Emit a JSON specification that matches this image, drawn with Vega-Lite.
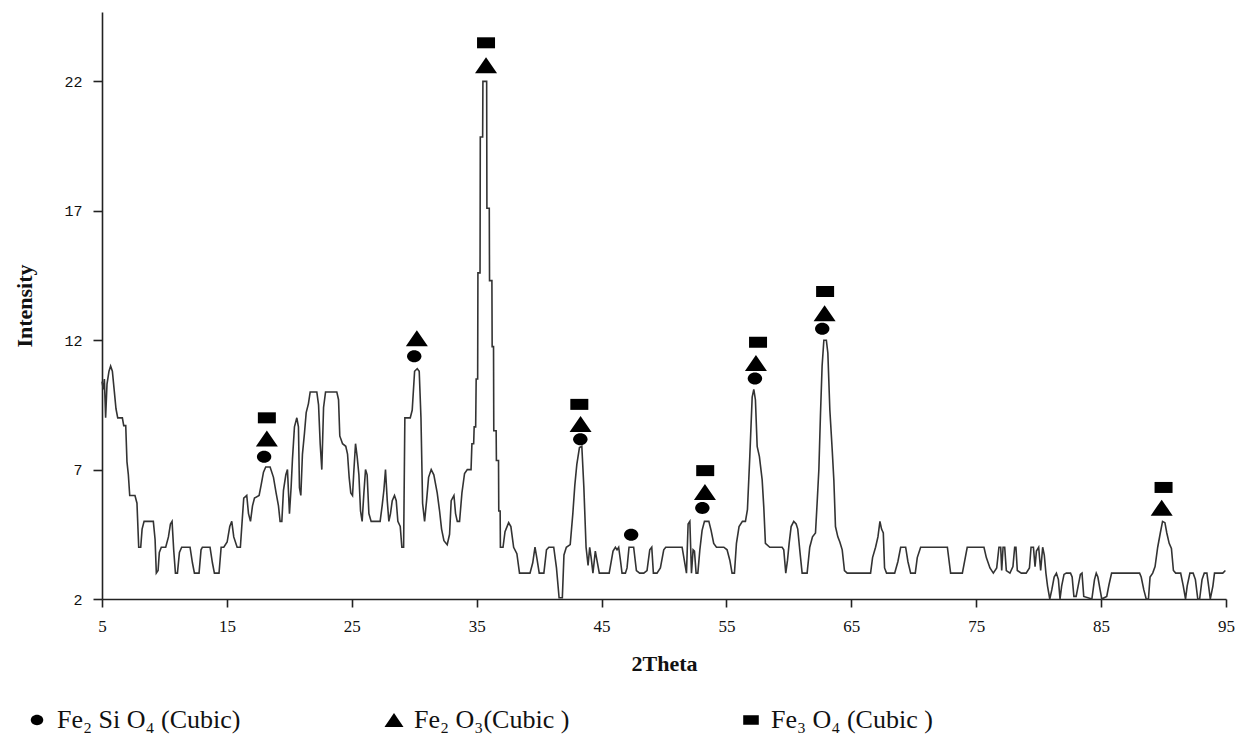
{
  "$schema": "https://vega.github.io/schema/vega-lite/v6.json",
  "width": 1124,
  "height": 587,
  "autosize": {"type": "none"},
  "padding": {"left": 102, "top": 12, "right": 21, "bottom": 145},
  "background": "white",
  "config": {
    "view": {"stroke": null},
    "axis": {"grid": false, "domainColor": "#222", "tickColor": "#222", "domainWidth": 1.6, "tickWidth": 1.6, "labelColor": "#111", "titleColor": "#111"}
  },
  "datasets": {
    "pattern": [
      {"theta":5.0,"intensity":10.4},{"theta":5.11,"intensity":10.1},{"theta":5.19,"intensity":10.5},{"theta":5.29,"intensity":9},{"theta":5.4,"intensity":10.3},{"theta":5.56,"intensity":10.8},{"theta":5.69,"intensity":11},{"theta":5.83,"intensity":10.8},{"theta":5.99,"intensity":10},{"theta":6.12,"intensity":9.35},{"theta":6.26,"intensity":9},{"theta":6.63,"intensity":9},{"theta":6.74,"intensity":8.7},{"theta":6.9,"intensity":8.7},{"theta":7.0,"intensity":7.3},{"theta":7.11,"intensity":6.8},{"theta":7.22,"intensity":6},{"theta":7.64,"intensity":6},{"theta":7.8,"intensity":5.7},{"theta":7.94,"intensity":4},{"theta":8.1,"intensity":4},{"theta":8.21,"intensity":4.7},{"theta":8.37,"intensity":5},{"theta":9.11,"intensity":5},{"theta":9.25,"intensity":4.3},{"theta":9.35,"intensity":3},{"theta":9.49,"intensity":3.1},{"theta":9.59,"intensity":3.8},{"theta":9.75,"intensity":4},{"theta":10.1,"intensity":4},{"theta":10.32,"intensity":4.4},{"theta":10.48,"intensity":4.9},{"theta":10.61,"intensity":5},{"theta":10.74,"intensity":3.9},{"theta":10.88,"intensity":3},{"theta":11.04,"intensity":3},{"theta":11.2,"intensity":3.8},{"theta":11.38,"intensity":4},{"theta":12.05,"intensity":4},{"theta":12.24,"intensity":3.4},{"theta":12.4,"intensity":3},{"theta":12.77,"intensity":3},{"theta":12.93,"intensity":3.9},{"theta":13.04,"intensity":4},{"theta":13.65,"intensity":4},{"theta":13.84,"intensity":3.4},{"theta":14.0,"intensity":3},{"theta":14.37,"intensity":3},{"theta":14.54,"intensity":4},{"theta":14.75,"intensity":4},{"theta":15.02,"intensity":4.2},{"theta":15.23,"intensity":4.8},{"theta":15.39,"intensity":5},{"theta":15.55,"intensity":4.4},{"theta":15.82,"intensity":4},{"theta":16.08,"intensity":4},{"theta":16.22,"intensity":5},{"theta":16.35,"intensity":5.9},{"theta":16.59,"intensity":6},{"theta":16.73,"intensity":5.3},{"theta":16.89,"intensity":5},{"theta":17.05,"intensity":5.6},{"theta":17.21,"intensity":5.9},{"theta":17.58,"intensity":6},{"theta":17.74,"intensity":6.4},{"theta":17.93,"intensity":6.9},{"theta":18.11,"intensity":7.1},{"theta":18.46,"intensity":7.1},{"theta":18.73,"intensity":6.7},{"theta":18.94,"intensity":6.1},{"theta":19.13,"intensity":5.6},{"theta":19.26,"intensity":5},{"theta":19.4,"intensity":5},{"theta":19.53,"intensity":6.2},{"theta":19.72,"intensity":6.8},{"theta":19.85,"intensity":7},{"theta":20.01,"intensity":5.3},{"theta":20.14,"intensity":6.3},{"theta":20.25,"intensity":7.4},{"theta":20.41,"intensity":8.65},{"theta":20.6,"intensity":9},{"theta":20.73,"intensity":8.65},{"theta":20.81,"intensity":6.3},{"theta":20.92,"intensity":6},{"theta":21.05,"intensity":7.6},{"theta":21.21,"intensity":8.4},{"theta":21.35,"intensity":9.2},{"theta":21.53,"intensity":9.55},{"theta":21.67,"intensity":10},{"theta":22.2,"intensity":10},{"theta":22.34,"intensity":9.5},{"theta":22.47,"intensity":8},{"theta":22.6,"intensity":7},{"theta":22.74,"intensity":9.4},{"theta":22.9,"intensity":10},{"theta":23.8,"intensity":10},{"theta":23.94,"intensity":9.7},{"theta":24.04,"intensity":8.3},{"theta":24.26,"intensity":8},{"theta":24.52,"intensity":7.9},{"theta":24.66,"intensity":7.6},{"theta":24.79,"intensity":6.7},{"theta":24.92,"intensity":6.1},{"theta":25.06,"intensity":6},{"theta":25.16,"intensity":6.9},{"theta":25.3,"intensity":8},{"theta":25.43,"intensity":7.5},{"theta":25.57,"intensity":6.8},{"theta":25.7,"intensity":5.4},{"theta":25.83,"intensity":5},{"theta":25.97,"intensity":6.1},{"theta":26.1,"intensity":7},{"theta":26.23,"intensity":6.8},{"theta":26.37,"intensity":5.3},{"theta":26.55,"intensity":5},{"theta":27.27,"intensity":5},{"theta":27.43,"intensity":5.6},{"theta":27.57,"intensity":6.2},{"theta":27.7,"intensity":7},{"theta":27.84,"intensity":5.8},{"theta":27.97,"intensity":5},{"theta":28.1,"intensity":5.3},{"theta":28.24,"intensity":5.8},{"theta":28.42,"intensity":6},{"theta":28.56,"intensity":5.8},{"theta":28.69,"intensity":5},{"theta":28.88,"intensity":4.8},{"theta":29.01,"intensity":4},{"theta":29.15,"intensity":4},{"theta":29.25,"intensity":9},{"theta":29.68,"intensity":9},{"theta":29.84,"intensity":9.3},{"theta":30.03,"intensity":10.8},{"theta":30.24,"intensity":10.9},{"theta":30.4,"intensity":10.8},{"theta":30.54,"intensity":9},{"theta":30.67,"intensity":5.7},{"theta":30.83,"intensity":5},{"theta":30.99,"intensity":5.8},{"theta":31.15,"intensity":6.7},{"theta":31.36,"intensity":7},{"theta":31.57,"intensity":6.8},{"theta":31.84,"intensity":6.1},{"theta":32.03,"intensity":5.4},{"theta":32.19,"intensity":4.7},{"theta":32.38,"intensity":4.25},{"theta":32.64,"intensity":4.1},{"theta":32.83,"intensity":4.5},{"theta":32.96,"intensity":5.8},{"theta":33.18,"intensity":6},{"theta":33.31,"intensity":5.3},{"theta":33.45,"intensity":5},{"theta":33.63,"intensity":5},{"theta":33.82,"intensity":6.1},{"theta":34.03,"intensity":6.85},{"theta":34.25,"intensity":7},{"theta":34.55,"intensity":7},{"theta":34.62,"intensity":8},{"theta":34.76,"intensity":8},{"theta":34.8,"intensity":8.65},{"theta":34.92,"intensity":8.65},{"theta":34.96,"intensity":10.5},{"theta":35.08,"intensity":10.5},{"theta":35.1,"intensity":14.6},{"theta":35.27,"intensity":14.6},{"theta":35.29,"intensity":19.85},{"theta":35.48,"intensity":19.85},{"theta":35.5,"intensity":22},{"theta":35.8,"intensity":22},{"theta":35.82,"intensity":17.1},{"theta":36.01,"intensity":17.1},{"theta":36.03,"intensity":14.3},{"theta":36.22,"intensity":14.3},{"theta":36.24,"intensity":11.75},{"theta":36.35,"intensity":11.75},{"theta":36.37,"intensity":8.5},{"theta":36.56,"intensity":8.5},{"theta":36.58,"intensity":7.35},{"theta":36.75,"intensity":7.35},{"theta":36.77,"intensity":5.4},{"theta":36.88,"intensity":5.4},{"theta":36.9,"intensity":4},{"theta":37.11,"intensity":4},{"theta":37.27,"intensity":4.6},{"theta":37.56,"intensity":4.95},{"theta":37.74,"intensity":4.8},{"theta":37.96,"intensity":4},{"theta":38.22,"intensity":3.75},{"theta":38.43,"intensity":3},{"theta":39.27,"intensity":3},{"theta":39.49,"intensity":3.4},{"theta":39.67,"intensity":4},{"theta":39.83,"intensity":3.55},{"theta":40.01,"intensity":3},{"theta":40.38,"intensity":3},{"theta":40.59,"intensity":3.9},{"theta":40.78,"intensity":4},{"theta":41.17,"intensity":4},{"theta":41.39,"intensity":3.2},{"theta":41.6,"intensity":2.05},{"theta":41.86,"intensity":2.05},{"theta":41.99,"intensity":3.7},{"theta":42.18,"intensity":4},{"theta":42.49,"intensity":4.1},{"theta":42.7,"intensity":5.3},{"theta":42.86,"intensity":6.4},{"theta":43.02,"intensity":7.2},{"theta":43.23,"intensity":7.85},{"theta":43.42,"intensity":7.9},{"theta":43.58,"intensity":6.35},{"theta":43.76,"intensity":4},{"theta":43.92,"intensity":3.3},{"theta":44.05,"intensity":4},{"theta":44.18,"intensity":3.55},{"theta":44.31,"intensity":3},{"theta":44.5,"intensity":3.85},{"theta":44.63,"intensity":3.5},{"theta":44.82,"intensity":3},{"theta":45.61,"intensity":3},{"theta":45.92,"intensity":3.85},{"theta":46.11,"intensity":4},{"theta":46.24,"intensity":3.9},{"theta":46.37,"intensity":4},{"theta":46.51,"intensity":3.5},{"theta":46.64,"intensity":3},{"theta":46.91,"intensity":3},{"theta":47.04,"intensity":3.2},{"theta":47.2,"intensity":4},{"theta":47.57,"intensity":4},{"theta":47.79,"intensity":3.1},{"theta":48.05,"intensity":3},{"theta":48.38,"intensity":3},{"theta":48.64,"intensity":3.1},{"theta":48.86,"intensity":3.9},{"theta":49.02,"intensity":4},{"theta":49.15,"intensity":3},{"theta":49.44,"intensity":3},{"theta":49.71,"intensity":3.2},{"theta":49.98,"intensity":3.9},{"theta":50.14,"intensity":4},{"theta":51.45,"intensity":4},{"theta":51.66,"intensity":3.4},{"theta":51.8,"intensity":3},{"theta":51.93,"intensity":4.9},{"theta":52.07,"intensity":5},{"theta":52.2,"intensity":3},{"theta":52.33,"intensity":3.9},{"theta":52.44,"intensity":3.85},{"theta":52.57,"intensity":3},{"theta":52.71,"intensity":3},{"theta":52.87,"intensity":3.9},{"theta":53.05,"intensity":4.65},{"theta":53.24,"intensity":5},{"theta":53.59,"intensity":5},{"theta":53.77,"intensity":4.65},{"theta":53.98,"intensity":4.15},{"theta":54.2,"intensity":4},{"theta":54.79,"intensity":4},{"theta":55.05,"intensity":3.9},{"theta":55.27,"intensity":3.5},{"theta":55.45,"intensity":3},{"theta":55.64,"intensity":3},{"theta":55.8,"intensity":4.15},{"theta":56.01,"intensity":4.8},{"theta":56.28,"intensity":5},{"theta":56.52,"intensity":5},{"theta":56.68,"intensity":5.45},{"theta":56.87,"intensity":7.5},{"theta":57.06,"intensity":9.8},{"theta":57.19,"intensity":10.1},{"theta":57.32,"intensity":9.7},{"theta":57.46,"intensity":7.9},{"theta":57.64,"intensity":7.5},{"theta":57.86,"intensity":6.6},{"theta":57.99,"intensity":5.55},{"theta":58.12,"intensity":4.15},{"theta":58.47,"intensity":4},{"theta":59.46,"intensity":4},{"theta":59.59,"intensity":3.9},{"theta":59.75,"intensity":3},{"theta":59.89,"intensity":3.5},{"theta":60.02,"intensity":4.15},{"theta":60.18,"intensity":4.8},{"theta":60.39,"intensity":5},{"theta":60.58,"intensity":4.9},{"theta":60.71,"intensity":4.7},{"theta":60.87,"intensity":3.9},{"theta":61.06,"intensity":3},{"theta":61.46,"intensity":3},{"theta":61.67,"intensity":4},{"theta":61.89,"intensity":4.4},{"theta":62.13,"intensity":4.55},{"theta":62.26,"intensity":5.7},{"theta":62.4,"intensity":7},{"theta":62.53,"intensity":9.15},{"theta":62.66,"intensity":11},{"theta":62.8,"intensity":12},{"theta":63.0,"intensity":12},{"theta":63.12,"intensity":11.5},{"theta":63.28,"intensity":9.3},{"theta":63.47,"intensity":7.75},{"theta":63.6,"intensity":6.6},{"theta":63.73,"intensity":4.8},{"theta":63.92,"intensity":4.4},{"theta":64.08,"intensity":4.2},{"theta":64.27,"intensity":3.9},{"theta":64.45,"intensity":3.1},{"theta":64.67,"intensity":3},{"theta":66.54,"intensity":3},{"theta":66.7,"intensity":3.6},{"theta":66.94,"intensity":4},{"theta":67.13,"intensity":4.4},{"theta":67.29,"intensity":5},{"theta":67.42,"intensity":4.7},{"theta":67.56,"intensity":4.55},{"theta":67.66,"intensity":3.2},{"theta":67.82,"intensity":3},{"theta":68.47,"intensity":3},{"theta":68.73,"intensity":3.45},{"theta":68.95,"intensity":4},{"theta":69.35,"intensity":4},{"theta":69.53,"intensity":3.45},{"theta":69.75,"intensity":3},{"theta":70.12,"intensity":3},{"theta":70.28,"intensity":3.6},{"theta":70.55,"intensity":4},{"theta":72.69,"intensity":4},{"theta":72.95,"intensity":3},{"theta":73.89,"intensity":3},{"theta":74.28,"intensity":4},{"theta":75.62,"intensity":4},{"theta":75.81,"intensity":3.6},{"theta":76.1,"intensity":3.2},{"theta":76.37,"intensity":3},{"theta":76.64,"intensity":3.2},{"theta":76.82,"intensity":4},{"theta":76.96,"intensity":4},{"theta":77.04,"intensity":3.1},{"theta":77.15,"intensity":4},{"theta":77.28,"intensity":4},{"theta":77.41,"intensity":3.1},{"theta":77.7,"intensity":3},{"theta":77.94,"intensity":3.25},{"theta":78.08,"intensity":4},{"theta":78.18,"intensity":4},{"theta":78.29,"intensity":3.1},{"theta":78.61,"intensity":3},{"theta":79.0,"intensity":3},{"theta":79.26,"intensity":3.2},{"theta":79.39,"intensity":4},{"theta":79.58,"intensity":4},{"theta":79.71,"intensity":3.25},{"theta":79.82,"intensity":3.85},{"theta":80.0,"intensity":4},{"theta":80.16,"intensity":3.1},{"theta":80.32,"intensity":4},{"theta":80.45,"intensity":3.7},{"theta":80.58,"intensity":3},{"theta":80.71,"intensity":2.5},{"theta":80.89,"intensity":2},{"theta":81.05,"intensity":2.35},{"theta":81.24,"intensity":2.85},{"theta":81.42,"intensity":3},{"theta":81.58,"intensity":2.75},{"theta":81.71,"intensity":2},{"theta":81.84,"intensity":2.5},{"theta":82.03,"intensity":2.95},{"theta":82.21,"intensity":3},{"theta":82.55,"intensity":3},{"theta":82.68,"intensity":2.85},{"theta":82.82,"intensity":2.1},{"theta":83.0,"intensity":2.1},{"theta":83.16,"intensity":2.5},{"theta":83.34,"intensity":2.95},{"theta":83.47,"intensity":3},{"theta":83.61,"intensity":2.1},{"theta":84.26,"intensity":2},{"theta":84.47,"intensity":2.75},{"theta":84.61,"intensity":3},{"theta":84.74,"intensity":2.85},{"theta":84.92,"intensity":2.35},{"theta":85.05,"intensity":2},{"theta":85.45,"intensity":2.1},{"theta":85.63,"intensity":2.55},{"theta":85.84,"intensity":3},{"theta":86.11,"intensity":3},{"theta":88.08,"intensity":3},{"theta":88.21,"intensity":2.85},{"theta":88.42,"intensity":2.35},{"theta":88.61,"intensity":2},{"theta":88.79,"intensity":2},{"theta":88.92,"intensity":2.85},{"theta":89.13,"intensity":3},{"theta":89.32,"intensity":3.25},{"theta":89.53,"intensity":4},{"theta":89.74,"intensity":4.55},{"theta":89.92,"intensity":5},{"theta":90.11,"intensity":4.95},{"theta":90.26,"intensity":4.55},{"theta":90.45,"intensity":4.15},{"theta":90.63,"intensity":3.95},{"theta":90.79,"intensity":3.1},{"theta":90.97,"intensity":3},{"theta":91.37,"intensity":3},{"theta":91.58,"intensity":2.5},{"theta":91.76,"intensity":2},{"theta":91.89,"intensity":2.5},{"theta":92.11,"intensity":3},{"theta":92.37,"intensity":3},{"theta":92.55,"intensity":2.75},{"theta":92.74,"intensity":2},{"theta":92.89,"intensity":2},{"theta":93.08,"intensity":2.75},{"theta":93.26,"intensity":3},{"theta":93.47,"intensity":3},{"theta":93.61,"intensity":2.5},{"theta":93.74,"intensity":2},{"theta":93.95,"intensity":2.5},{"theta":94.08,"intensity":3},{"theta":94.74,"intensity":3},{"theta":94.95,"intensity":3.1}
    ],
    "peaks": [
      {"theta":18.2,"intensity":9.0,"phase":"Fe₃ O₄ (Cubic )"},
      {"theta":18.2,"intensity":8.2,"phase":"Fe₂ O₃(Cubic )"},
      {"theta":17.98,"intensity":7.5,"phase":"Fe₂ Si O₄ (Cubic)"},
      {"theta":30.21,"intensity":12.07,"phase":"Fe₂ O₃(Cubic )"},
      {"theta":30.0,"intensity":11.38,"phase":"Fe₂ Si O₄ (Cubic)"},
      {"theta":35.75,"intensity":23.49,"phase":"Fe₃ O₄ (Cubic )"},
      {"theta":35.75,"intensity":22.62,"phase":"Fe₂ O₃(Cubic )"},
      {"theta":43.22,"intensity":9.52,"phase":"Fe₃ O₄ (Cubic )"},
      {"theta":43.32,"intensity":8.76,"phase":"Fe₂ O₃(Cubic )"},
      {"theta":43.3,"intensity":8.17,"phase":"Fe₂ Si O₄ (Cubic)"},
      {"theta":47.37,"intensity":4.48,"phase":"Fe₂ Si O₄ (Cubic)"},
      {"theta":53.3,"intensity":6.96,"phase":"Fe₃ O₄ (Cubic )"},
      {"theta":53.28,"intensity":6.13,"phase":"Fe₂ O₃(Cubic )"},
      {"theta":53.07,"intensity":5.52,"phase":"Fe₂ Si O₄ (Cubic)"},
      {"theta":57.53,"intensity":11.92,"phase":"Fe₃ O₄ (Cubic )"},
      {"theta":57.36,"intensity":11.12,"phase":"Fe₂ O₃(Cubic )"},
      {"theta":57.28,"intensity":10.52,"phase":"Fe₂ Si O₄ (Cubic)"},
      {"theta":62.9,"intensity":13.88,"phase":"Fe₃ O₄ (Cubic )"},
      {"theta":62.86,"intensity":13.04,"phase":"Fe₂ O₃(Cubic )"},
      {"theta":62.67,"intensity":12.44,"phase":"Fe₂ Si O₄ (Cubic)"},
      {"theta":90.0,"intensity":6.31,"phase":"Fe₃ O₄ (Cubic )"},
      {"theta":89.85,"intensity":5.53,"phase":"Fe₂ O₃(Cubic )"}
    ]
  },
  "layer": [
    {
      "data": {"name": "pattern"},
      "mark": {"type": "line", "color": "#333333", "strokeWidth": 1.6},
      "encoding": {
        "x": {
          "field": "theta", "type": "quantitative",
          "scale": {"domain": [5, 95], "nice": false, "zero": false},
          "axis": {
            "values": [5, 15, 25, 35, 45, 55, 65, 75, 85, 95],
            "title": "2Theta",
            "titleFont": "Liberation Serif", "titleFontSize": 22, "titleFontWeight": "bold", "titlePadding": 19,
            "labelFont": "Liberation Serif", "labelFontSize": 17, "labelPadding": 11, "tickSize": 8, "labelFlush": false
          }
        },
        "y": {
          "field": "intensity", "type": "quantitative",
          "scale": {"domain": [2, 24.68], "nice": false, "zero": false},
          "axis": {
            "values": [2, 7, 12, 17, 22],
            "title": "Intensity",
            "titleFont": "Liberation Serif", "titleFontSize": 22, "titleFontWeight": "bold", "titlePadding": 27,
            "labelFont": "Liberation Mono", "labelFontSize": 15, "labelPadding": 11, "tickSize": 9
          }
        }
      }
    },
    {
      "data": {"name": "peaks"},
      "mark": {"type": "point", "filled": true, "color": "black", "opacity": 1, "size": 400},
      "encoding": {
        "x": {"field": "theta", "type": "quantitative"},
        "y": {"field": "intensity", "type": "quantitative"},
        "shape": {
          "field": "phase", "type": "nominal",
          "scale": {
            "domain": ["Fe₂ Si O₄ (Cubic)", "Fe₂ O₃(Cubic )", "Fe₃ O₄ (Cubic )"],
            "range": ["M-0.72,0A0.72,0.6 0 1,0 0.72,0A0.72,0.6 0 1,0 -0.72,0Z", "M0,-0.8L1.1,0.8L-1.1,0.8Z", "M-0.9,-0.55H0.9V0.55H-0.9Z"]
          },
          "legend": {
            "orient": "none", "legendX": -78, "legendY": 695,
            "direction": "horizontal", "title": null,
            "labelFont": "Liberation Serif", "labelFontSize": 26, "labelColor": "#111",
            "symbolSize": 300, "symbolFillColor": "black", "symbolStrokeWidth": 0, "symbolOpacity": 1,
            "columnPadding": 140, "gridAlign": "all", "labelOffset": 7, "padding": 0, "labelLimit": 400
          }
        }
      }
    }
  ]
}
